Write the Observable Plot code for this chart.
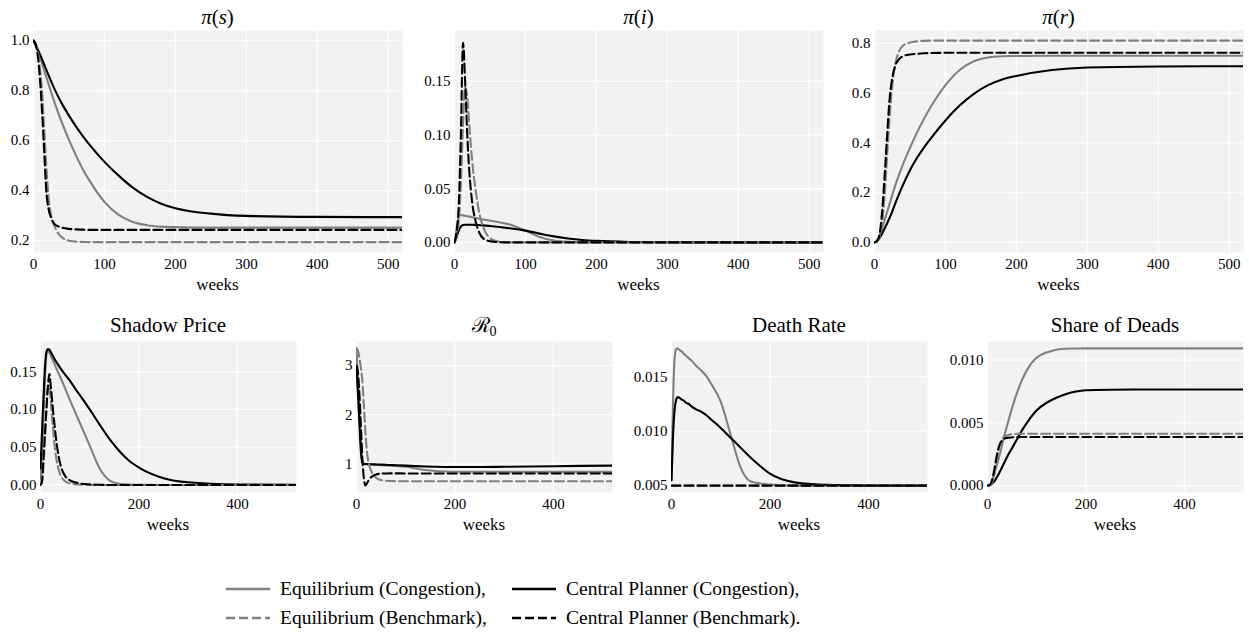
<!DOCTYPE html>
<html><head><meta charset="utf-8">
<script src="https://cdn.jsdelivr.net/npm/d3@7"></script>
<script src="https://cdn.jsdelivr.net/npm/@observablehq/plot@0.6"></script>
<style>
body{margin:0;background:#fff;}
#root{position:relative;width:1249px;height:634px;overflow:hidden;font-family:"Liberation Serif",serif;background:#fff;}
#root svg{position:absolute;overflow:visible;font-family:"Liberation Serif",serif;}
#root svg text{font-family:"Liberation Serif",serif;}
</style></head><body><div id="root"></div>
<script>
// ---------- data ----------
const weeks = [0,3,6,9,12,15,18,21,25,30,35,40,50,60,70,80,100,120,140,160,180,200,250,300,400,520];

// pi(s)
const s_eqCong  = [1.0,0.98,0.958,0.935,0.91,0.882,0.855,0.828,0.793,0.75,0.71,0.672,0.603,0.54,0.483,0.435,0.355,0.303,0.275,0.262,0.256,0.254,0.252,0.252,0.252,0.252];
const s_cpCong  = [1.0,0.983,0.965,0.946,0.926,0.905,0.884,0.863,0.836,0.804,0.775,0.748,0.70,0.656,0.616,0.58,0.515,0.46,0.412,0.375,0.348,0.33,0.308,0.299,0.295,0.294];
const s_eqBench = [1.0,0.99,0.96,0.89,0.80,0.65,0.50,0.38,0.30,0.255,0.228,0.213,0.20,0.196,0.195,0.194,0.194,0.194,0.194,0.194,0.194,0.194,0.194,0.194,0.194,0.194];
const s_cpBench = [1.0,0.985,0.94,0.85,0.72,0.56,0.40,0.33,0.29,0.265,0.257,0.252,0.247,0.245,0.244,0.243,0.243,0.243,0.243,0.243,0.243,0.243,0.243,0.243,0.243,0.243];

// pi(i)
const i_eqCong  = [0,0.013,0.023,0.0255,0.0252,0.0248,0.0244,0.024,0.0235,0.0228,0.0221,0.0214,0.0203,0.0192,0.0178,0.0162,0.011,0.005,0.0017,0.0005,0.0002,0.0001,0,0,0,0];
const i_cpCong  = [0,0.005,0.011,0.0148,0.0162,0.0165,0.0165,0.0165,0.0164,0.0163,0.0161,0.0159,0.0153,0.0146,0.0138,0.013,0.011,0.0082,0.0056,0.0037,0.0023,0.0014,0.0004,0.0001,0,0];
const i_eqBench = [0,0.006,0.02,0.055,0.11,0.145,0.135,0.108,0.075,0.048,0.027,0.015,0.004,0.001,0.0003,0,0,0,0,0,0,0,0,0,0,0];
const i_cpBench = [0,0.01,0.035,0.10,0.186,0.15,0.10,0.065,0.037,0.019,0.009,0.004,0.001,0.0003,0,0,0,0,0,0,0,0,0,0,0,0];

// pi(r)
const r_eqCong  = [0,0.006,0.02,0.042,0.068,0.096,0.124,0.152,0.19,0.235,0.275,0.313,0.38,0.442,0.498,0.548,0.632,0.693,0.728,0.743,0.748,0.749,0.75,0.75,0.75,0.75];
const r_cpCong  = [0,0.004,0.013,0.026,0.043,0.06,0.078,0.097,0.124,0.162,0.197,0.23,0.29,0.34,0.382,0.42,0.49,0.55,0.597,0.632,0.655,0.669,0.693,0.703,0.707,0.708];
const r_eqBench = [0,0.003,0.012,0.04,0.11,0.22,0.36,0.49,0.63,0.725,0.77,0.79,0.803,0.808,0.81,0.811,0.811,0.811,0.811,0.811,0.811,0.811,0.811,0.811,0.811,0.811];
const r_cpBench = [0,0.004,0.018,0.07,0.17,0.30,0.44,0.565,0.66,0.715,0.738,0.748,0.755,0.758,0.76,0.761,0.762,0.762,0.762,0.762,0.762,0.762,0.762,0.762,0.762,0.762];

// shadow price
const sp_eqCong  = [0.002,0.04,0.09,0.14,0.172,0.178,0.175,0.171,0.165,0.158,0.15,0.143,0.128,0.112,0.097,0.082,0.052,0.022,0.006,0.0015,0.0004,0.0001,0,0,0,0];
const sp_cpCong  = [0.022,0.07,0.115,0.155,0.176,0.18,0.179,0.176,0.171,0.165,0.16,0.155,0.146,0.138,0.128,0.119,0.10,0.08,0.061,0.045,0.032,0.023,0.009,0.0035,0.0006,0.0001];
const sp_eqBench = [0,0.005,0.025,0.06,0.10,0.128,0.132,0.11,0.078,0.045,0.025,0.014,0.005,0.002,0.001,0.0005,0,0,0,0,0,0,0,0,0,0];
const sp_cpBench = [0,0.004,0.035,0.068,0.10,0.13,0.147,0.13,0.102,0.07,0.045,0.028,0.012,0.006,0.0035,0.002,0.0007,0.0002,0,0,0,0,0,0,0,0];

// R0
const r0_eqCong  = [3.34,2.7,2.0,1.35,1.03,1.0,0.995,0.99,0.99,0.985,0.982,0.978,0.972,0.967,0.963,0.958,0.94,0.905,0.875,0.855,0.845,0.84,0.838,0.837,0.836,0.836];
const r0_cpCong  = [2.95,2.4,1.8,1.25,1.02,1.0,0.998,0.996,0.994,0.992,0.99,0.988,0.984,0.98,0.976,0.972,0.963,0.953,0.945,0.94,0.937,0.935,0.935,0.94,0.952,0.965];
const r0_eqBench = [3.35,3.3,3.15,2.95,2.68,2.18,1.675,1.27,1.0,0.854,0.764,0.714,0.67,0.655,0.65,0.648,0.646,0.645,0.645,0.645,0.645,0.645,0.645,0.645,0.645,0.645];
const r0_cpBench = [3.0,2.85,2.4,1.75,1.1,0.7,0.56,0.6,0.67,0.73,0.765,0.785,0.80,0.805,0.806,0.806,0.805,0.805,0.804,0.804,0.804,0.804,0.804,0.804,0.804,0.804];

// death rate
const dr_eqCong  = [0.0055,0.0125,0.0165,0.0175,0.0176,0.0175,0.0174,0.0173,0.0171,0.0169,0.0167,0.0165,0.016,0.0156,0.0151,0.0144,0.0127,0.0097,0.0067,0.0054,0.0052,0.0051,0.005,0.005,0.005,0.005];
const dr_cpCong  = [0.0055,0.0095,0.0118,0.0128,0.0131,0.0131,0.013,0.0129,0.0128,0.0126,0.0125,0.0123,0.012,0.0118,0.0115,0.0111,0.0103,0.0094,0.0085,0.0076,0.0068,0.0061,0.0053,0.0051,0.005,0.005];
const dr_eqBench = [0.005,0.005,0.005,0.005,0.005,0.005,0.005,0.005,0.005,0.005,0.005,0.005,0.005,0.005,0.005,0.005,0.005,0.005,0.005,0.005,0.005,0.005,0.005,0.005,0.005,0.005];
const dr_cpBench = [0.005,0.005,0.005,0.005,0.005,0.005,0.005,0.005,0.005,0.005,0.005,0.005,0.005,0.005,0.005,0.005,0.005,0.005,0.005,0.005,0.005,0.005,0.005,0.005,0.005,0.005];

// share of deads
const sd_eqCong  = [0,0.00002,0.0001,0.00035,0.0007,0.0011,0.0015,0.0019,0.0025,0.0033,0.0041,0.0048,0.0062,0.0074,0.0084,0.0092,0.0102,0.0106,0.01083,0.0109,0.01092,0.01093,0.01093,0.01093,0.01093,0.01093];
const sd_cpCong  = [0,0.00002,0.00006,0.00015,0.00027,0.0004,0.0006,0.0008,0.0011,0.0015,0.0019,0.0023,0.003,0.0037,0.0044,0.005,0.006,0.0066,0.007,0.0073,0.0075,0.0076,0.00764,0.00765,0.00765,0.00765];
const sd_eqBench = [0,0.00001,0.00006,0.0002,0.00056,0.0011,0.0018,0.0025,0.0032,0.0037,0.0039,0.004,0.0041,0.00412,0.00413,0.00413,0.00413,0.00413,0.00413,0.00413,0.00413,0.00413,0.00413,0.00413,0.00413,0.00413];
const sd_cpBench = [0,0.00002,0.0001,0.0004,0.0009,0.0015,0.0022,0.0028,0.0033,0.0036,0.00375,0.0038,0.00384,0.00386,0.00387,0.00387,0.00387,0.00387,0.00387,0.00387,0.00387,0.00387,0.00387,0.00387,0.00387,0.00387];

// tick labels
const xTicksTop = [0,100,200,300,400,500];
const xTicksBottom = [0,200,400];
const yTicks_s = [0.2,0.4,0.6,0.8,1.0];
const yTicks_i = [0,0.05,0.10,0.15];
const yTicks_r = [0,0.2,0.4,0.6,0.8];
const yTicks_sp = [0,0.05,0.10,0.15];
const yTicks_r0 = [1,2,3];
const yTicks_dr = [0.005,0.010,0.015];
const yTicks_sd = [0,0.005,0.010];

const seriesLabels = ["Equilibrium (Congestion),","Central Planner (Congestion),","Equilibrium (Benchmark),","Central Planner (Benchmark)."];

// ---------- styles / layout ----------
const FONT = "'Liberation Serif', serif";
const series = [
  {key:"eqCong",  label:seriesLabels[0], stroke:"#808080", dash:null},
  {key:"cpCong",  label:seriesLabels[1], stroke:"#000000", dash:null},
  {key:"eqBench", label:seriesLabels[2], stroke:"#808080", dash:"9,4"},
  {key:"cpBench", label:seriesLabels[3], stroke:"#000000", dash:"9,4"}
];

const panels = [
  {title:[{t:"π",i:1},{t:"("},{t:"s",i:1},{t:")"}], v:{eqCong:s_eqCong,cpCong:s_cpCong,eqBench:s_eqBench,cpBench:s_cpBench},
   yDomain:[0.1527,1.0404], yTicks:yTicks_s, fmt:".1f", xTicks:xTicksTop, box:[33,30,369,222], row:0},
  {title:[{t:"π",i:1},{t:"("},{t:"i",i:1},{t:")"}], v:{eqCong:i_eqCong,cpCong:i_cpCong,eqBench:i_eqBench,cpBench:i_cpBench},
   yDomain:[-0.0094,0.1974], yTicks:yTicks_i, fmt:".2f", xTicks:xTicksTop, box:[454,30,369,222], row:0},
  {title:[{t:"π",i:1},{t:"("},{t:"r",i:1},{t:")"}], v:{eqCong:r_eqCong,cpCong:r_cpCong,eqBench:r_eqBench,cpBench:r_cpBench},
   yDomain:[-0.0406,0.8516], yTicks:yTicks_r, fmt:".1f", xTicks:xTicksTop, box:[874,30,369,222], row:0},
  {title:[{t:"Shadow Price"}], v:{eqCong:sp_eqCong,cpCong:sp_cpCong,eqBench:sp_eqBench,cpBench:sp_cpBench},
   yDomain:[-0.01,0.19], yTicks:yTicks_sp, fmt:".2f", xTicks:xTicksBottom, box:[40,341,256,151], row:1},
  {title:[{t:"ℛ"},{t:"0",sub:1}], v:{eqCong:r0_eqCong,cpCong:r0_cpCong,eqBench:r0_eqBench,cpBench:r0_cpBench},
   yDomain:[0.417,3.49], yTicks:yTicks_r0, fmt:"d", xTicks:xTicksBottom, box:[356,341,256,151], row:1},
  {title:[{t:"Death Rate"}], v:{eqCong:dr_eqCong,cpCong:dr_cpCong,eqBench:dr_eqBench,cpBench:dr_cpBench},
   yDomain:[0.00437,0.01823], yTicks:yTicks_dr, fmt:".3f", xTicks:xTicksBottom, box:[671,341,256,151], row:1},
  {title:[{t:"Share of Deads"}], v:{eqCong:sd_eqCong,cpCong:sd_cpCong,eqBench:sd_eqBench,cpBench:sd_cpBench},
   yDomain:[-0.00055,0.01148], yTicks:yTicks_sd, fmt:".3f", xTicks:xTicksBottom, box:[987,341,256,151], row:1}
];
const rowText = [{title:24, weeks:290},{title:332, weeks:530}];

const root = document.getElementById("root");

for (const p of panels) {
  const [L,T,W,H] = p.box;
  const mL = Math.min(45, L), mR = 6, mT = 30, mB = 45;
  const marks = [
    Plot.frame({fill:"#f2f2f2", stroke:"none"}),
    Plot.ruleX(p.xTicks, {stroke:"#ffffff", strokeWidth:1.3}),
    Plot.ruleY(p.yTicks, {stroke:"#ffffff", strokeWidth:1.3})
  ];
  for (const s of series) {
    const rows = p.v[s.key].map((val,j)=>({week:weeks[j], value:val}));
    marks.push(Plot.line(rows, {x:"week", y:"value", stroke:s.stroke, strokeWidth:2.1,
      strokeDasharray:s.dash, curve:"monotone-x", clip:true}));
  }
  const svg = Plot.plot({
    width: mL+W+mR, height: mT+H+mB,
    marginLeft: mL, marginRight: mR, marginTop: mT, marginBottom: mB,
    style: "font-family:'Liberation Serif',serif;font-size:15px;color:#000;background:transparent;overflow:visible;",
    x: {domain:[0,520], ticks:p.xTicks, tickSize:0, tickPadding:6, label:null},
    y: {domain:p.yDomain, ticks:p.yTicks, tickSize:0, tickPadding:4, label:null, tickFormat:d3.format(p.fmt)},
    marks
  });
  svg.setAttribute("font-family", "Liberation Serif, serif");
  svg.setAttribute("font-size", "15");
  svg.style.position = "absolute";
  svg.style.left = (L-mL)+"px";
  svg.style.top = (T-mT)+"px";
  const sel = d3.select(svg);
  const off = T - mT;
  const rt = rowText[p.row];
  const title = sel.append("text")
    .attr("x", mL + W/2).attr("y", rt.title - off)
    .attr("text-anchor","middle").attr("fill","#000")
    .style("font-size","21px");
  for (const part of p.title) {
    const ts = title.append("tspan").text(part.t);
    if (part.i) ts.attr("font-style","italic");
    if (part.sub) ts.attr("dy", 4).style("font-size","14px");
  }
  sel.append("text")
    .attr("x", mL + W/2).attr("y", rt.weeks - off)
    .attr("text-anchor","middle").attr("fill","#000")
    .style("font-size","17px").text("weeks");
  root.appendChild(svg);
}

// ---------- legend ----------
const leg = d3.select(root).append("svg")
  .attr("width",1249).attr("height",80)
  .attr("font-family","Liberation Serif, serif")
  .style("left","0px").style("top","560px");
const colX = [226, 512], rowY = [29, 58];
series.forEach((s,k)=>{
  const cx = colX[k%2], cy = rowY[Math.floor(k/2)];
  leg.append("line").attr("x1",cx).attr("x2",cx+44).attr("y1",cy).attr("y2",cy)
    .attr("stroke",s.stroke).attr("stroke-width",2.6).attr("stroke-dasharray",s.dash);
  leg.append("text").attr("x",cx+54).attr("y",cy+6).style("font-size","19.5px").attr("fill","#000").text(s.label);
});
</script></body></html>
